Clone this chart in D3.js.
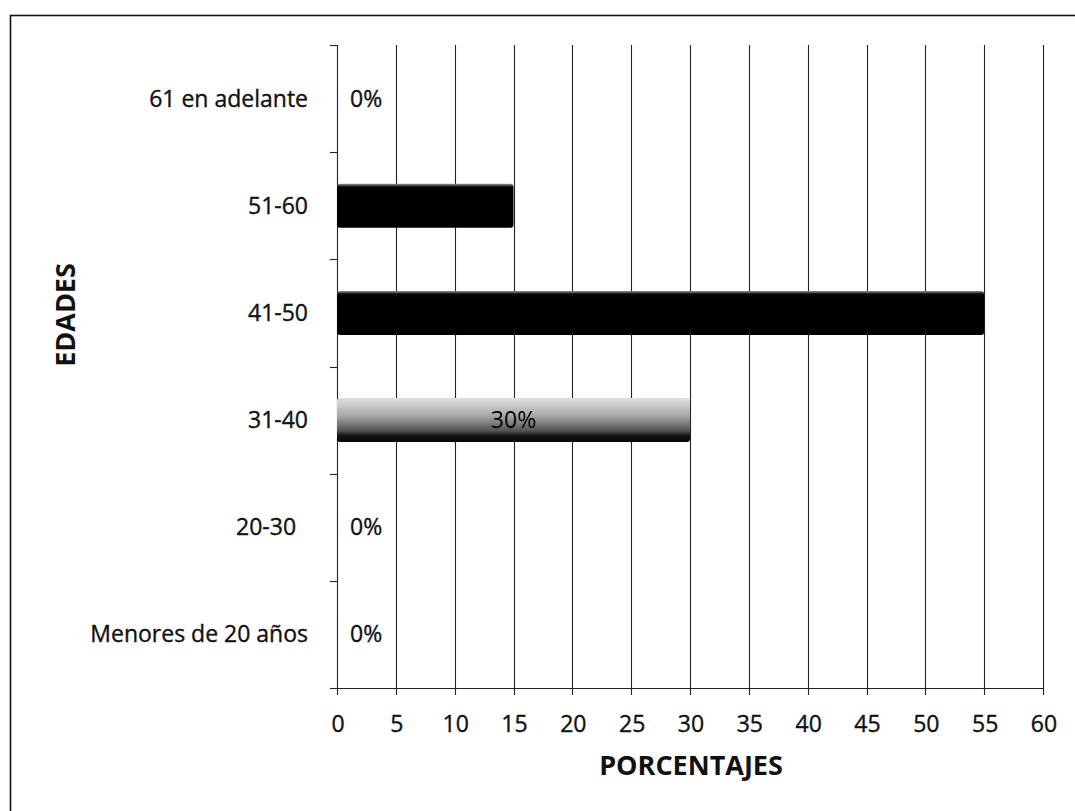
<!DOCTYPE html>
<html>
<head>
<meta charset="utf-8">
<script src="https://cdn.jsdelivr.net/npm/d3@7/dist/d3.min.js"></script>
<style>
  html, body { margin: 0; padding: 0; background: #fff; }
  svg { display: block; }
  text { font-family: "Open Sans", Lato, sans-serif; fill: #111; }
</style>
</head>
<body>
<svg id="chart" width="1075" height="811"></svg>
<script>
// Age groups, listed from top to bottom as drawn
const categories = ["61 en adelante", "51-60", "41-50", "31-40", "20-30", "Menores de 20 años"];
// Share of respondents in each group (%)
const values = [0, 15, 55, 30, 0, 0];
const xTicks = [0, 5, 10, 15, 20, 25, 30, 35, 40, 45, 50, 55, 60];
const xTitle = "PORCENTAJES";
const yTitle = "EDADES";

const svg = d3.select("#chart");
const plot = { left: 337, right: 1043, top: 45, bottom: 688 };

const x = d3.scaleLinear().domain([0, 60]).range([plot.left, plot.right]);
const y = d3.scaleBand().domain(categories).range([plot.top, plot.bottom]);
const barH = 44;

// frame around the whole figure
svg.append("rect")
  .attr("x", 10.5).attr("y", 15.5)
  .attr("width", 1080).attr("height", 820)
  .attr("fill", "none").attr("stroke", "#111").attr("stroke-width", 1.6);

// shading for bars
const defs = svg.append("defs");
const gDark = defs.append("linearGradient").attr("id", "gDark").attr("x1", 0).attr("y1", 0).attr("x2", 0).attr("y2", 1);
gDark.append("stop").attr("offset", "0").attr("stop-color", "#9a9a9a");
gDark.append("stop").attr("offset", "0.07").attr("stop-color", "#080808");
gDark.append("stop").attr("offset", "0.2").attr("stop-color", "#000");
gDark.append("stop").attr("offset", "1").attr("stop-color", "#000");
const gGray = defs.append("linearGradient").attr("id", "gGray").attr("x1", 0).attr("y1", 0).attr("x2", 0).attr("y2", 1);
gGray.append("stop").attr("offset", "0").attr("stop-color", "#e0e0e0");
gGray.append("stop").attr("offset", "0.4").attr("stop-color", "#a8a8a8");
gGray.append("stop").attr("offset", "0.75").attr("stop-color", "#505050");
gGray.append("stop").attr("offset", "0.85").attr("stop-color", "#151515");
gGray.append("stop").attr("offset", "1").attr("stop-color", "#050505");

// vertical grid lines, extended below the axis as tick marks
svg.append("g").selectAll("line").data(xTicks).join("line")
  .attr("x1", d => Math.round(x(d)) + 0.5).attr("x2", d => Math.round(x(d)) + 0.5)
  .attr("y1", plot.top).attr("y2", plot.bottom + 7)
  .attr("stroke", "#222").attr("stroke-width", 1.1);

// x axis line
svg.append("line")
  .attr("x1", plot.left - 7).attr("x2", plot.right + 1)
  .attr("y1", plot.bottom + 0.5).attr("y2", plot.bottom + 0.5)
  .attr("stroke", "#222").attr("stroke-width", 1.1);

// y axis ticks at band boundaries
const bounds = categories.map(c => y(c)).concat([plot.bottom]);
svg.append("g").selectAll("line").data(bounds).join("line")
  .attr("x1", plot.left - 7).attr("x2", plot.left)
  .attr("y1", d => Math.round(d) + 0.5).attr("y2", d => Math.round(d) + 0.5)
  .attr("stroke", "#222").attr("stroke-width", 1.1);

// bars
const data = categories.map((c, i) => ({ c, v: values[i] }));
svg.append("g").selectAll("rect").data(data.filter(d => d.v > 0)).join("rect")
  .attr("x", x(0))
  .attr("y", d => y(d.c) + y.bandwidth() / 2 - barH / 2)
  .attr("width", d => x(d.v) - x(0))
  .attr("height", barH)
  .attr("rx", 3)
  .attr("fill", d => d.c === "31-40" ? "url(#gGray)" : "url(#gDark)");

const txt = sel => sel.style("stroke", "#111").style("stroke-width", 0.35);

// value labels (black, so they vanish into the dark bars)
svg.append("g").selectAll("text").data(data).join("text")
  .attr("x", d => d.v > 0 ? (x(0) + x(d.v)) / 2 : x(0) + 13)
  .attr("y", d => y(d.c) + y.bandwidth() / 2)
  .attr("dy", "0.35em")
  .attr("text-anchor", d => d.v > 0 ? "middle" : "start")
  .attr("font-size", 23)
  .style("fill", d => d.v > 0 ? "#000" : "#111")
  .call(txt)
  .style("stroke", d => d.v > 0 ? "none" : "#111")
  .text(d => d.v + "%");

// category labels
svg.append("g").selectAll("text").data(categories).join("text")
  .attr("x", 308)
  .attr("y", d => y(d) + y.bandwidth() / 2)
  .attr("dy", "0.35em")
  .attr("text-anchor", "end")
  .attr("font-size", 23)
  .attr("xml:space", "preserve")
  .call(txt)
  .text(d => d === "20-30" ? d + "\u00a0\u00a0" : d);

// x tick labels
svg.append("g").selectAll("text").data(xTicks).join("text")
  .attr("x", d => x(d) + 1)
  .attr("y", 724)
  .attr("dy", "0.35em")
  .attr("text-anchor", "middle")
  .attr("font-size", 23)
  .call(txt)
  .text(d => d);

// axis titles
svg.append("text")
  .attr("x", (plot.left + plot.right) / 2 + 1).attr("y", 766)
  .attr("dy", "0.35em")
  .attr("text-anchor", "middle")
  .attr("font-size", 27).attr("font-weight", "bold")
  .text(xTitle);

svg.append("text")
  .attr("transform", "translate(66,315) rotate(-90)")
  .attr("dy", "0.35em")
  .attr("text-anchor", "middle")
  .attr("font-size", 27).attr("font-weight", "bold")
  .text(yTitle);
</script>
</body>
</html>
